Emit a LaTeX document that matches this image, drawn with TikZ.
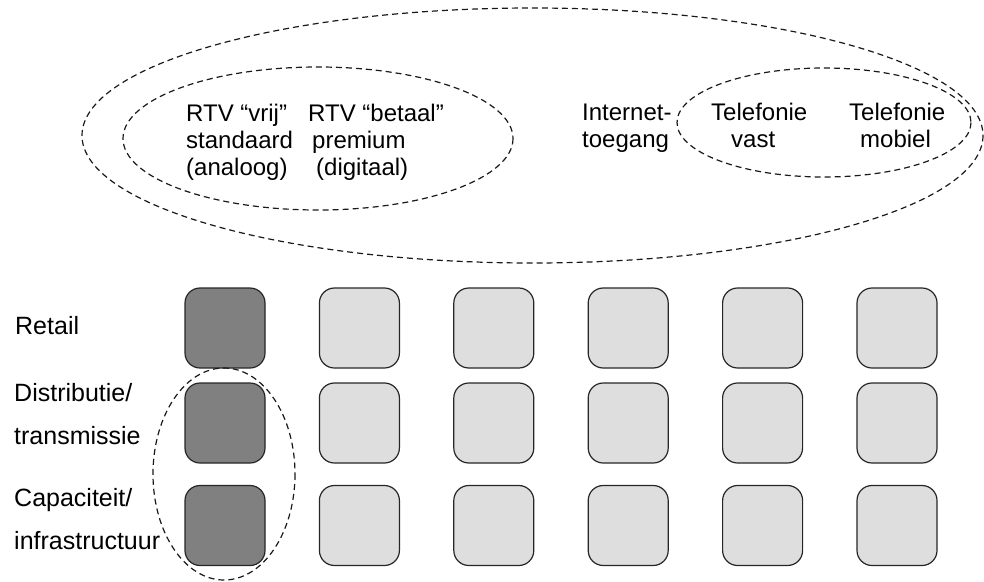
\documentclass[tikz,border=0pt]{standalone}
\usepackage{fontspec}
\setmainfont{Liberation Sans}
\begin{document}
\begin{tikzpicture}[x=1pt,y=-1pt,
  cell/.style={draw=black!85,line width=1.2pt,rounded corners=15pt,minimum width=80pt,minimum height=80pt,inner sep=0pt},
  darkcell/.style={cell,fill=black!50},
  lightcell/.style={cell,fill=black!13},
  lbl/.style={anchor=base west,inner sep=0pt,font=\fontsize{24}{28}\selectfont},
  rowlbl/.style={lbl,font=\fontsize{25}{29}\selectfont},
  grp/.style={draw=black!90,line width=1.2pt,dash pattern=on 6pt off 4pt}]
\useasboundingbox (0,0) rectangle (984,581);
% grouping ellipses
\draw[grp] (532.5,135.5) ellipse [x radius=450.5, y radius=127.5];
\draw[grp] (318,138.5) ellipse [x radius=195, y radius=71.5];
\draw[grp] (824,122.5) ellipse [x radius=147, y radius=54.5];
% top labels
\node[lbl] (v1) at (186,121) {RTV “vrij”};
\node[lbl] (v2) at (186,148) {standaard};
\node[lbl] (v3) at (186,175) {(analoog)};
\node[lbl] (b1) at (308,121) {RTV “betaal”};
\node[lbl] (b2) at (312,148) {premium};
\node[lbl] (b3) at (316,175) {(digitaal)};
\node[lbl] (i1) at (582,120) {Internet-};
\node[lbl] (i2) at (582,147) {toegang};
\node[lbl] (t1) at (711,120) {Telefonie};
\node[lbl] (t2) at (731,147) {vast};
\node[lbl] (m1) at (849,120) {Telefonie};
\node[lbl] (m2) at (860,147) {mobiel};
% row labels
\node[rowlbl] (r1) at (15,334) {Retail};
\node[rowlbl] (d1) at (14,401) {Distributie/};
\node[rowlbl] (d2) at (14,444) {transmissie};
\node[rowlbl] (c1) at (14,506) {Capaciteit/};
\node[rowlbl] (c2) at (14,549) {infrastructuur};
% cells
\foreach \r/\y in {1/328,2/423,3/525.5}{
  \node[darkcell] (cell-\r-1) at (225,\y) {};
  \foreach \c in {2,...,6}{
    \node[lightcell] (cell-\r-\c) at ({225+134.4*(\c-1)},\y) {};
  }
}
% column ellipse
\draw[grp] (224,474) ellipse [x radius=71, y radius=106];
\end{tikzpicture}
\end{document}
